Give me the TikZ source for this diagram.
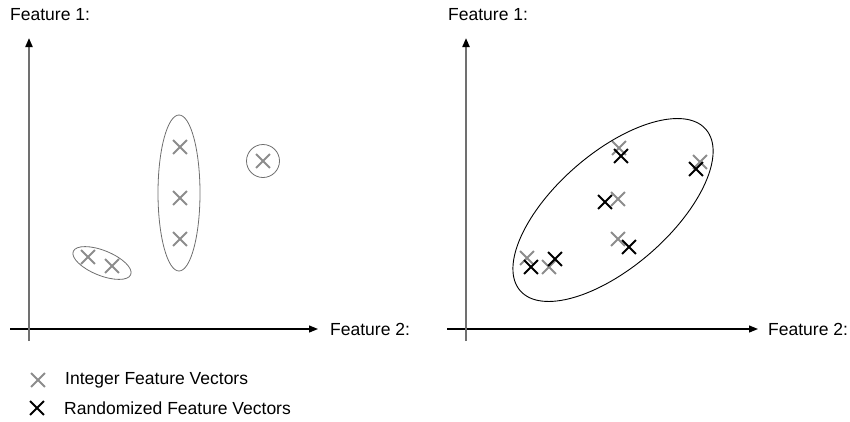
\documentclass[tikz,border=0pt]{standalone}
\usepackage{fontspec}
\setmainfont{Liberation Sans}
\usetikzlibrary{shapes.misc,arrows.meta}
\definecolor{ptgray}{RGB}{140,140,140}
\definecolor{ringgray}{RGB}{110,110,110}

\begin{document}
\begin{tikzpicture}[x=1pt,y=1pt,
    lbl/.style={inner sep=0pt,font=\fontsize{17.5}{21}\selectfont},
    xg/.style={cross out,draw=ptgray,line width=1.8pt,minimum size=12pt,inner sep=0pt},
    xb/.style={cross out,draw=black,line width=1.8pt,minimum size=12pt,inner sep=0pt},
    axis/.style={-{Triangle[length=9pt,width=7pt,color=black]}}]
  \useasboundingbox (0,0) rectangle (850,-421);
  % left plot: axes
  \draw (10,-329) coordinate (lx0) (318,-329) coordinate (lx1)
        (29,-341) coordinate (ly0) (29,-38) coordinate (ly1);
  \node[lbl,anchor=west] (lf2) at (330,-329) {Feature 2:};
  \node[lbl,anchor=base west] (lf1) at (10,-20) {Feature 1:};
  \draw[axis,line width=1.2pt] (lx0) -- (lx1);
  \draw[axis,line width=2pt,ptgray!80!black] (ly0) -- (ly1);
  % left plot: integer points
  \draw (88,-257) node[xg] (a1) {}
        (112,-266) node[xg] (a2) {}
        (180,-147) node[xg] (b1) {}
        (180,-198) node[xg] (b2) {}
        (180,-239) node[xg] (b3) {}
        (263,-161) node[xg] (c1) {};
  \draw[ringgray,line width=0.8pt]
        (102,-263) coordinate (ca) [rotate around={-22:(ca)}] (ca) ellipse (31 and 12.5);
  \draw[ringgray,line width=0.8pt] (179,-193) ellipse (21 and 78);
  \draw[ringgray,line width=0.8pt] (263,-161) circle (16.5);
  % right plot: axes
  \draw (447,-329) coordinate (rx0) (758,-329) coordinate (rx1)
        (466,-341) coordinate (ry0) (466,-38) coordinate (ry1);
  \node[lbl,anchor=west] (rf2) at (768,-329) {Feature 2:};
  \node[lbl,anchor=base west] (rf1) at (448,-20) {Feature 1:};
  \draw[axis,line width=1.2pt] (rx0) -- (rx1);
  \draw[axis,line width=2pt,ptgray!80!black] (ry0) -- (ry1);
  % right plot: integer and randomized points
  \draw (619,-148) node[xg] (g1) {}
        (700,-162) node[xg] (g2) {}
        (618,-199) node[xg] (g3) {}
        (618,-239) node[xg] (g4) {}
        (527,-258) node[xg] (g5) {}
        (549,-267) node[xg] (g6) {};
  \draw (621,-156) node[xb] (r1) {}
        (696,-169) node[xb] (r2) {}
        (605,-202) node[xb] (r3) {}
        (629,-247) node[xb] (r4) {}
        (531,-267) node[xb] (r5) {}
        (555,-259) node[xb] (r6) {};
  \draw[line width=0.9pt]
        (613,-210) coordinate (cr) [rotate around={41:(cr)}] (cr) ellipse (123 and 57);
  % legend
  \draw (38,-380) node[xg] (lg) {}
        (37,-408) node[xb] (lb) {};
  \node[lbl,anchor=west] (lgt) at (65,-380) {Integer Feature Vectors};
  \node[lbl,anchor=west] (lbt) at (64,-408) {Randomized Feature Vectors};
\end{tikzpicture}
\end{document}
